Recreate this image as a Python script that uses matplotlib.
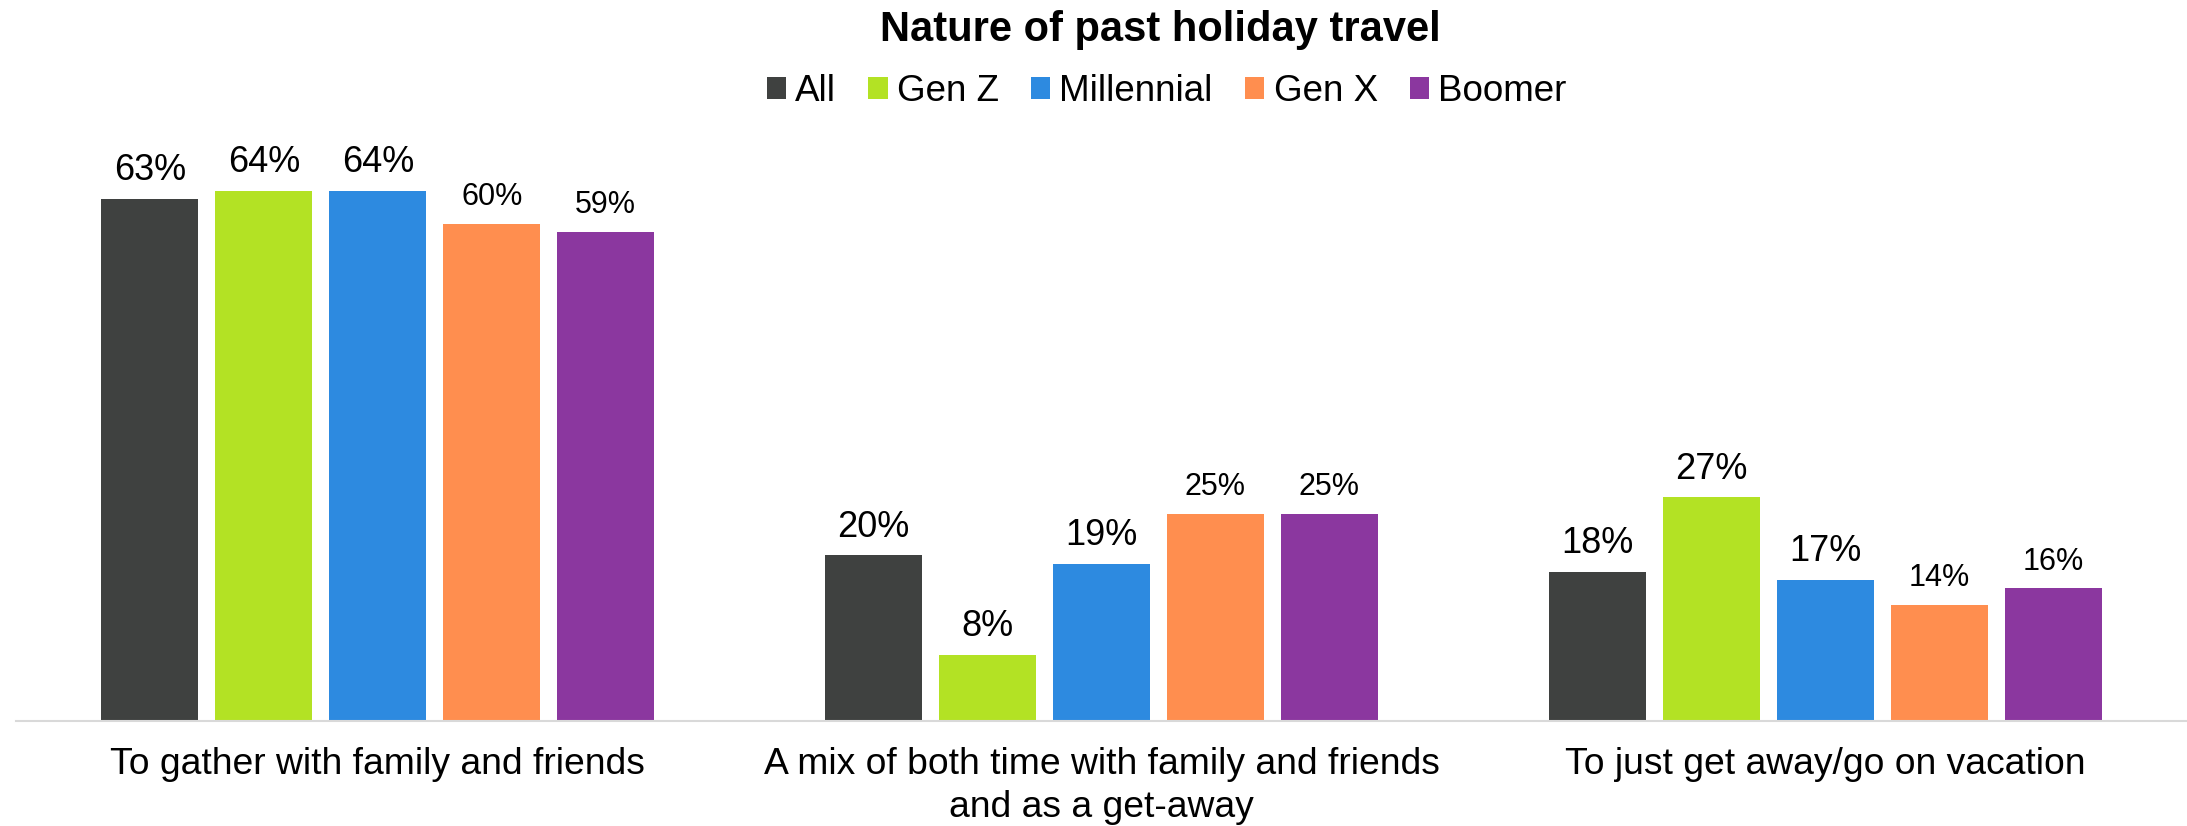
import matplotlib
matplotlib.use("Agg")
import matplotlib.pyplot as plt
import numpy as np

plt.rcParams['font.family'] = ['Liberation Sans', 'DejaVu Sans']

categories = ["To gather with family and friends",
              "A mix of both time with family and friends\nand as a get-away",
              "To just get away/go on vacation"]
series = ["All", "Gen Z", "Millennial", "Gen X", "Boomer"]
all_vals = [63, 20, 18]
genz_vals = [64, 8, 27]
millennial_vals = [64, 19, 17]
genx_vals = [60, 25, 14]
boomer_vals = [59, 25, 16]

values = [all_vals, genz_vals, millennial_vals, genx_vals, boomer_vals]
colors = ["#3f4140", "#b3e224", "#2d8ae0", "#ff8e4f", "#8b379f"]
label_sizes = [26, 26, 26, 22, 22]

fig = plt.figure(figsize=(21.87, 8.26), dpi=100)
ax = fig.add_axes([16 / 2187, 105 / 826, 2171 / 2187, 571.7 / 826])

x = np.arange(len(categories))
step = 0.1575
width = 0.134
for i, (name, vals) in enumerate(zip(series, values)):
    pos = x + (i - 2) * step
    bars = ax.bar(pos, vals, width, color=colors[i], label=name)
    for b, v in zip(bars, vals):
        ax.annotate(f"{v}%", (b.get_x() + b.get_width() / 2, v),
                    xytext=(0, 13.5), textcoords="offset points",
                    ha="center", va="baseline", fontsize=label_sizes[i])

ax.set_xlim(-0.5, 2.5)
ax.set_ylim(0, 69)
ax.set_yticks([])
ax.set_xticks(x)
ax.set_xticklabels(categories, fontsize=26.8, linespacing=1.27)
ax.tick_params(axis="x", length=0, pad=19)
for s in ["top", "left", "right"]:
    ax.spines[s].set_visible(False)
ax.spines["bottom"].set_color("#d9d9d9")
ax.spines["bottom"].set_linewidth(1.5)

fig.text(0.5306, 0.950, "Nature of past holiday travel", ha="center",
         va="baseline", fontsize=30, fontweight="bold")

fig.legend(loc="center", bbox_to_anchor=(0.5335, 0.889), ncol=5,
           frameon=False, fontsize=26.5, handlelength=0.52, handleheight=0.52,
           handletextpad=0.25, columnspacing=0.88, borderpad=0, borderaxespad=0)

fig.savefig("out.png", dpi=100)
